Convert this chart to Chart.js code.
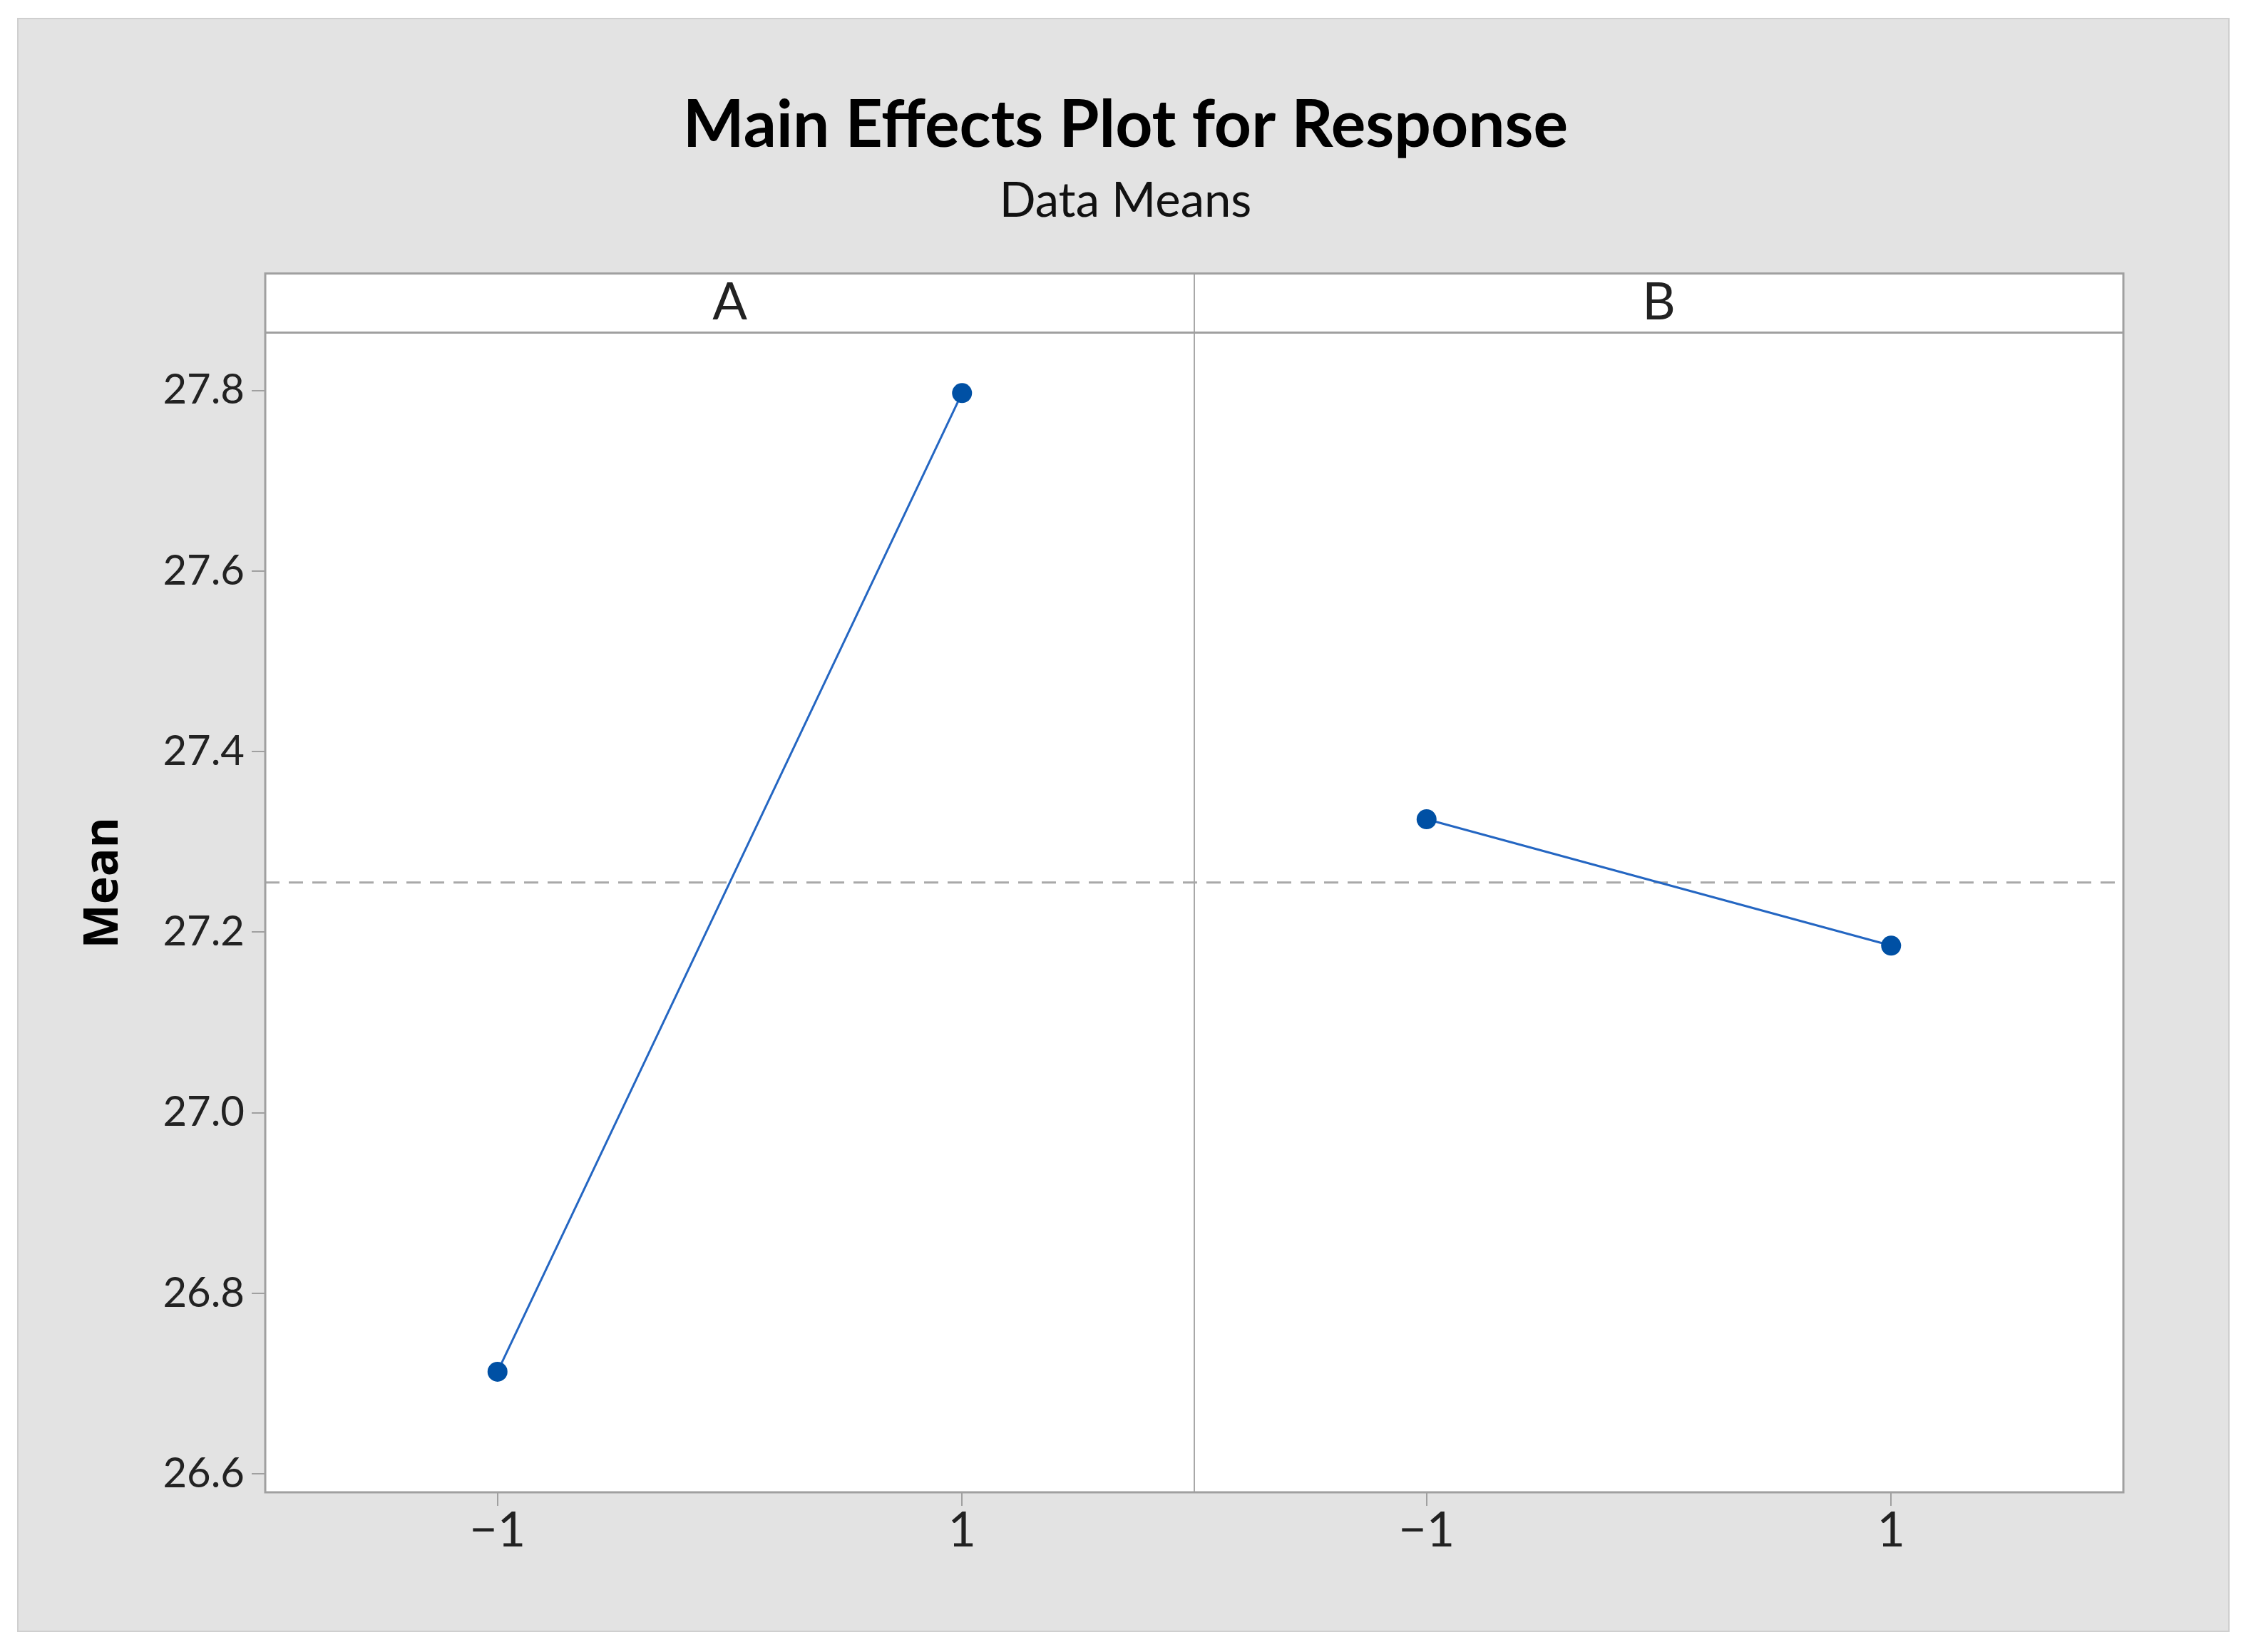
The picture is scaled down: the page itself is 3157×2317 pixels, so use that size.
<!DOCTYPE html>
<html>
<head>
<meta charset="utf-8">
<script src="https://cdn.jsdelivr.net/npm/chart.js@4/dist/chart.umd.min.js"></script>
<style>
  html, body { margin: 0; padding: 0; background: #fff; }
  body { width: 3157px; height: 2317px; position: relative; overflow: hidden; }
  #panel {
    position: absolute; left: 24px; top: 25px; width: 3103px; height: 2264px;
    background: #e3e3e3; border: 2px solid #cfcfcf; box-sizing: border-box;
  }
  #chart { position: absolute; left: 0; top: 0; }
</style>
</head>
<body>
<div id="panel"></div>
<canvas id="chart" width="3157" height="2317"></canvas>
<script>
// data
const factorNames = ["A", "B"];
const levels = [-1, 1];
const meansA = [26.713, 27.797];
const meansB = [27.325, 27.185];
const grandMean = 27.255;
const yTicks = [26.6, 26.8, 27.0, 27.2, 27.4, 27.6, 27.8];

const FONT = "Lato, 'Open Sans', sans-serif";
const FRAME = "#a0a0a0";
const HEADER_H = 83; // strip with factor names, sits at the top of the plot area

const toPoints = (means) => levels.map((x, i) => ({ x: x, y: means[i] }));

// white panels, header strip, dashed mean line, frame
const panelFrame = {
  id: "panelFrame",
  beforeDraw(chart) {
    const { ctx, chartArea } = chart;
    ctx.save();
    ctx.fillStyle = "#fff";
    ctx.fillRect(chartArea.left, chartArea.top, chartArea.width, chartArea.height);
    ctx.restore();
  },
  beforeDatasetsDraw(chart) {
    const { ctx, chartArea, scales } = chart;
    const headTop = chartArea.top;
    const headBottom = chartArea.top + HEADER_H;
    const yMean = scales.y.getPixelForValue(grandMean);
    const divX = scales.xB.left;
    ctx.save();

    ctx.strokeStyle = "#a9a9a9";
    ctx.lineWidth = 3;
    ctx.setLineDash([20, 13]);
    ctx.beginPath();
    ctx.moveTo(chartArea.left, yMean);
    ctx.lineTo(chartArea.right, yMean);
    ctx.stroke();
    ctx.setLineDash([]);

    ctx.strokeStyle = "#a8a8a8";
    ctx.lineWidth = 2;
    ctx.beginPath();
    ctx.moveTo(divX, headTop);
    ctx.lineTo(divX, chartArea.bottom);
    ctx.stroke();

    ctx.strokeStyle = FRAME;
    ctx.lineWidth = 3;
    ctx.beginPath();
    ctx.moveTo(chartArea.left, headBottom);
    ctx.lineTo(chartArea.right, headBottom);
    ctx.stroke();
    ctx.strokeRect(chartArea.left, headTop, chartArea.width, chartArea.height);

    ctx.fillStyle = "#222";
    ctx.font = "72px " + FONT;
    ctx.textAlign = "center";
    ctx.textBaseline = "middle";
    const headMid = (headTop + headBottom) / 2;
    ctx.fillText(factorNames[0], (scales.xA.left + scales.xA.right) / 2, headMid);
    ctx.fillText(factorNames[1], (scales.xB.left + scales.xB.right) / 2, headMid);
    ctx.restore();
  }
};

const xScale = () => ({
  type: "linear",
  position: "bottom",
  stack: "panels",
  stackWeight: 1,
  min: -2,
  max: 2,
  offset: false,
  afterBuildTicks: (s) => { s.ticks = levels.map(v => ({ value: v })); },
  afterFit: (s) => { s.height = 224; },
  grid: { display: true, drawOnChartArea: false, color: FRAME, lineWidth: 2, tickLength: 19 },
  border: { display: false },
  ticks: {
    padding: 1,
    color: "#222",
    font: { family: FONT, size: 68, lineHeight: 1 },
    callback: (v) => String(v).replace("-", "\u2212")
  }
});

const lineStyle = {
  borderColor: "#2466c2",
  borderWidth: 3,
  pointRadius: 14,
  pointBackgroundColor: "#0050a4",
  pointBorderWidth: 0
};

new Chart(document.getElementById("chart"), {
  type: "line",
  data: {
    datasets: [
      Object.assign({ label: factorNames[0], data: toPoints(meansA), xAxisID: "xA", yAxisID: "y" }, lineStyle),
      Object.assign({ label: factorNames[1], data: toPoints(meansB), xAxisID: "xB", yAxisID: "y" }, lineStyle)
    ]
  },
  options: {
    responsive: false,
    animation: false,
    devicePixelRatio: 1,
    layout: { padding: 0 },
    plugins: {
      legend: { display: false },
      tooltip: { enabled: false },
      title: {
        display: true,
        text: "Main Effects Plot for Response",
        color: "#000",
        font: { family: FONT, size: 91, weight: "bold", lineHeight: 1.2 },
        padding: { top: 122, bottom: 0 }
      },
      subtitle: {
        display: true,
        text: "Data Means",
        color: "#111",
        font: { family: FONT, size: 67, lineHeight: 1.2 },
        padding: { top: 11, bottom: 61 }
      }
    },
    scales: {
      xA: xScale(),
      xB: xScale(),
      y: {
        type: "linear",
        position: "left",
        min: 26.5795,
        max: 27.9295,
        afterBuildTicks: (s) => { s.ticks = yTicks.map(v => ({ value: v })); },
        afterFit: (s) => { s.width = 372; },
        grid: { display: true, drawOnChartArea: false, color: FRAME, lineWidth: 2, tickLength: 19 },
        border: { display: false },
        ticks: {
          padding: 10,
          color: "#222",
          font: { family: FONT, size: 58 },
          callback: (v) => v.toFixed(1)
        },
        title: {
          display: true,
          text: "Mean",
          color: "#000",
          font: { family: "'Open Sans', sans-serif", size: 66, weight: "bold", lineHeight: 1.2 },
          padding: { top: 107, bottom: 0 }
        }
      },
      yR: {
        type: "linear",
        position: "right",
        display: true,
        afterFit: (s) => { s.width = 179; },
        grid: { display: false },
        border: { display: false },
        ticks: { display: false }
      }
    }
  },
  plugins: [panelFrame]
});
</script>
</body>
</html>
